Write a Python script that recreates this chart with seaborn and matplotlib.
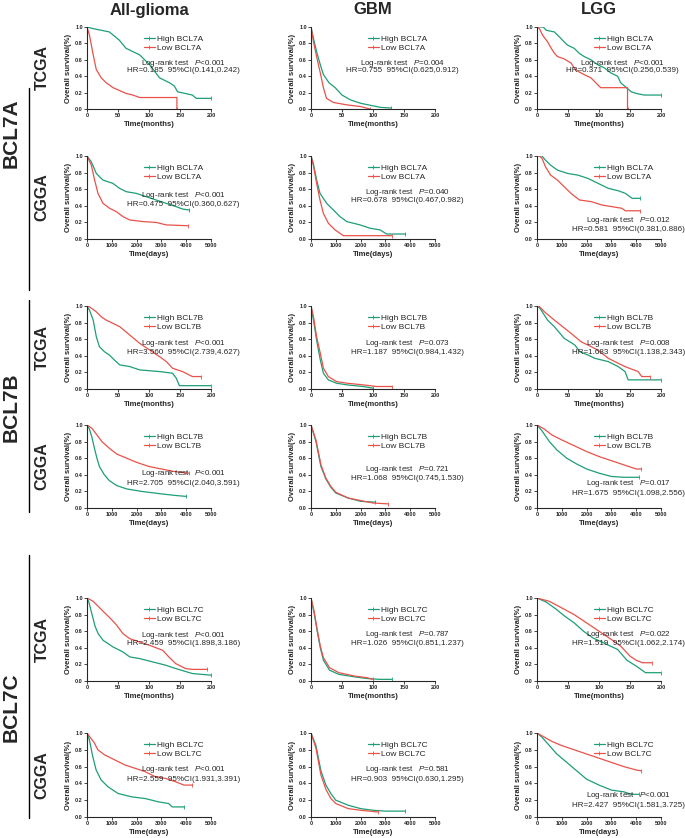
import matplotlib
matplotlib.use("Agg")
import matplotlib.pyplot as plt
import seaborn as sns
import pandas as pd
from matplotlib.lines import Line2D

# --- labels ---
genes = ["BCL7A", "BCL7B", "BCL7C"]
cohorts = ["TCGA", "CGGA"]
subtypes = ["All-glioma", "GBM", "LGG"]

# --- log-rank / HR text, rows = (gene, cohort), cols = subtype ---
p_texts = [
    ["P<0.001", "P=0.004", "P<0.001"],
    ["P<0.001", "P=0.040", "P=0.012"],
    ["P<0.001", "P=0.073", "P=0.008"],
    ["P<0.001", "P=0.721", "P=0.017"],
    ["P<0.001", "P=0.787", "P=0.022"],
    ["P<0.001", "P=0.581", "P<0.001"],
]
hr_vals = [
    ["0.185", "0.755", "0.371"],
    ["0.475", "0.678", "0.581"],
    ["3.560", "1.187", "1.683"],
    ["2.705", "1.068", "1.675"],
    ["2.459", "1.026", "1.519"],
    ["2.559", "0.903", "2.427"],
]
ci_vals = [
    ["0.141,0.242", "0.625,0.912", "0.256,0.539"],
    ["0.360,0.627", "0.467,0.982", "0.381,0.886"],
    ["2.739,4.627", "0.984,1.432", "1.138,2.343"],
    ["2.040,3.591", "0.745,1.530", "1.098,2.556"],
    ["1.898,3.186", "0.851,1.237", "1.062,2.174"],
    ["1.931,3.391", "0.630,1.295", "1.581,3.725"],
]

# --- survival curves (time, survival) ---
# BCL7A TCGA (months)
a_tcga_all_hi = ([0, 10, 36, 52, 63, 85, 101, 117, 133, 141, 146, 170, 176, 200],
                 [1.0, 0.98, 0.94, 0.84, 0.74, 0.66, 0.54, 0.38, 0.32, 0.28, 0.21, 0.17, 0.13, 0.13])
a_tcga_all_lo = ([0, 4, 10, 15, 23, 31, 42, 63, 74, 85, 145, 145],
                 [1.0, 0.90, 0.66, 0.48, 0.38, 0.32, 0.26, 0.19, 0.17, 0.14, 0.14, 0.0])
a_tcga_gbm_hi = ([0, 4, 9, 15, 20, 29, 39, 50, 64, 80, 96, 112, 129],
                 [1.0, 0.86, 0.70, 0.54, 0.42, 0.32, 0.26, 0.17, 0.11, 0.07, 0.045, 0.02, 0.012])
a_tcga_gbm_lo = ([0, 4, 9, 15, 20, 25, 36, 58, 80, 95],
                 [1.0, 0.82, 0.64, 0.44, 0.26, 0.13, 0.08, 0.05, 0.03, 0.0])
a_tcga_lgg_hi = ([0, 10, 15, 28, 36, 41, 49, 60, 68, 76, 87, 98, 109, 119, 130, 135, 152, 160, 173, 200],
                 [1.0, 1.0, 0.96, 0.94, 0.88, 0.84, 0.78, 0.74, 0.68, 0.64, 0.60, 0.54, 0.50, 0.44, 0.40, 0.32, 0.21, 0.19, 0.17, 0.17])
a_tcga_lgg_lo = ([0, 4, 9, 17, 23, 28, 33, 44, 55, 60, 66, 76, 87, 100, 103, 146, 146],
                 [1.0, 0.98, 0.90, 0.82, 0.74, 0.68, 0.64, 0.61, 0.56, 0.50, 0.46, 0.42, 0.38, 0.28, 0.26, 0.26, 0.0])
# BCL7A CGGA (days)
a_cgga_all_hi = ([0, 174, 375, 643, 1046, 1314, 1582, 1984, 2386, 2788, 3190, 3592, 3861, 4130],
                 [1.0, 0.93, 0.79, 0.71, 0.67, 0.61, 0.57, 0.55, 0.51, 0.47, 0.43, 0.39, 0.36, 0.35])
a_cgga_all_lo = ([0, 174, 308, 442, 643, 912, 1180, 1448, 1716, 2252, 2788, 3190, 4060],
                 [1.0, 0.89, 0.71, 0.55, 0.43, 0.37, 0.33, 0.27, 0.23, 0.21, 0.20, 0.17, 0.16])
a_cgga_gbm_hi = ([0, 94, 228, 363, 632, 900, 1169, 1438, 1976, 2379, 2782, 3051, 3800],
                 [1.0, 0.91, 0.71, 0.55, 0.43, 0.35, 0.27, 0.21, 0.17, 0.13, 0.11, 0.06, 0.06])
a_cgga_gbm_lo = ([0, 94, 228, 363, 497, 699, 968, 1304, 3250],
                 [1.0, 0.89, 0.67, 0.47, 0.31, 0.19, 0.11, 0.04, 0.04])
a_cgga_lgg_hi = ([0, 200, 342, 548, 822, 1233, 1644, 2055, 2466, 2877, 3288, 3562, 3836, 4150],
                 [1.0, 1.0, 0.95, 0.89, 0.83, 0.79, 0.77, 0.73, 0.67, 0.61, 0.58, 0.55, 0.49, 0.49])
a_cgga_lgg_lo = ([0, 100, 205, 342, 548, 822, 1096, 1370, 1712, 2192, 2603, 3014, 3425, 3562, 4150],
                 [1.0, 1.0, 0.97, 0.87, 0.77, 0.71, 0.63, 0.55, 0.47, 0.45, 0.41, 0.39, 0.37, 0.34, 0.34])
# BCL7B TCGA
b_tcga_all_hi = ([0, 4, 10, 15, 20, 28, 36, 44, 53, 69, 85, 117, 138, 144, 149, 200],
                 [1.0, 0.95, 0.83, 0.63, 0.51, 0.45, 0.41, 0.35, 0.29, 0.27, 0.23, 0.21, 0.19, 0.13, 0.04, 0.04])
b_tcga_all_lo = ([0, 4, 15, 23, 31, 53, 69, 85, 101, 117, 128, 138, 154, 170, 184],
                 [1.0, 0.99, 0.93, 0.87, 0.83, 0.75, 0.65, 0.55, 0.47, 0.39, 0.33, 0.25, 0.21, 0.15, 0.15])
b_tcga_gbm_hi = ([0, 4, 9, 15, 20, 28, 41, 58, 84, 100],
                 [1.0, 0.83, 0.59, 0.35, 0.19, 0.11, 0.07, 0.05, 0.03, 0.01])
b_tcga_gbm_lo = ([0, 4, 9, 15, 20, 28, 41, 58, 84, 106, 130],
                 [1.0, 0.87, 0.63, 0.43, 0.25, 0.15, 0.09, 0.07, 0.05, 0.03, 0.03])
b_tcga_lgg_hi = ([0, 5, 17, 28, 44, 61, 69, 82, 93, 115, 131, 142, 147, 200],
                 [1.0, 0.97, 0.83, 0.75, 0.61, 0.53, 0.45, 0.41, 0.37, 0.33, 0.27, 0.21, 0.11, 0.11])
b_tcga_lgg_lo = ([0, 3, 12, 28, 55, 71, 82, 98, 115, 131, 142, 163, 169, 182],
                 [1.0, 1.0, 0.93, 0.83, 0.67, 0.57, 0.53, 0.47, 0.37, 0.31, 0.27, 0.21, 0.15, 0.15])
# BCL7B CGGA
b_cgga_all_hi = ([0, 100, 200, 300, 400, 500, 700, 900, 1200, 1600, 2200, 3000, 3600, 4000],
                 [1.0, 0.95, 0.85, 0.72, 0.60, 0.50, 0.40, 0.33, 0.27, 0.23, 0.20, 0.17, 0.15, 0.14])
b_cgga_all_lo = ([0, 200, 400, 600, 900, 1200, 1600, 2000, 2500, 3000, 3500, 4100],
                 [1.0, 0.96, 0.88, 0.80, 0.72, 0.65, 0.60, 0.55, 0.50, 0.47, 0.44, 0.42])
b_cgga_gbm_hi = ([0, 200, 400, 600, 800, 1000, 1500, 2000, 2600],
                 [1.0, 0.80, 0.50, 0.35, 0.25, 0.18, 0.12, 0.08, 0.07])
b_cgga_gbm_lo = ([0, 200, 400, 600, 800, 1000, 1500, 2000, 2500, 3100],
                 [1.0, 0.82, 0.52, 0.36, 0.26, 0.19, 0.12, 0.09, 0.06, 0.05])
b_cgga_lgg_hi = ([0, 200, 500, 800, 1200, 1600, 2000, 2500, 3000, 3500, 4100],
                 [1.0, 0.93, 0.80, 0.70, 0.60, 0.53, 0.47, 0.42, 0.38, 0.37, 0.37])
b_cgga_lgg_lo = ([0, 300, 600, 1000, 1500, 2000, 2500, 3000, 3500, 4000, 4200],
                 [1.0, 0.95, 0.88, 0.82, 0.75, 0.68, 0.62, 0.57, 0.52, 0.47, 0.47])
# BCL7C TCGA
c_tcga_all_hi = ([0, 3, 7.5, 13, 18, 26, 42, 58, 69, 85, 106, 127, 143, 170, 200],
                 [1.0, 0.95, 0.82, 0.66, 0.57, 0.49, 0.41, 0.35, 0.29, 0.27, 0.23, 0.19, 0.15, 0.09, 0.07])
c_tcga_all_lo = ([0, 10, 26, 37, 47, 58, 69, 85, 101, 122, 132, 143, 159, 170, 194],
                 [1.0, 0.96, 0.84, 0.76, 0.68, 0.57, 0.51, 0.47, 0.43, 0.37, 0.29, 0.21, 0.15, 0.14, 0.14])
c_tcga_gbm_hi = ([0, 5, 10, 15, 20, 30, 45, 70, 90, 110, 130],
                 [1.0, 0.82, 0.60, 0.40, 0.25, 0.13, 0.08, 0.05, 0.03, 0.02, 0.02])
c_tcga_gbm_lo = ([0, 5, 10, 15, 20, 30, 45, 70, 90, 100],
                 [1.0, 0.84, 0.62, 0.42, 0.28, 0.16, 0.10, 0.06, 0.04, 0.02])
c_tcga_lgg_hi = ([0, 15, 30, 45, 60, 75, 90, 110, 130, 145, 160, 175, 200],
                 [1.0, 0.95, 0.87, 0.78, 0.70, 0.60, 0.52, 0.45, 0.38, 0.25, 0.18, 0.10, 0.10])
c_tcga_lgg_lo = ([0, 20, 40, 60, 80, 100, 120, 135, 150, 160, 170, 185],
                 [1.0, 0.96, 0.88, 0.80, 0.70, 0.60, 0.50, 0.42, 0.30, 0.25, 0.22, 0.22])
# BCL7C CGGA
c_cgga_all_hi = ([0, 95, 232, 368, 572, 845, 1253, 1798, 2343, 2888, 3297, 3433, 3910],
                 [1.0, 0.92, 0.72, 0.56, 0.44, 0.36, 0.28, 0.24, 0.22, 0.18, 0.16, 0.12, 0.12])
c_cgga_all_lo = ([0, 300, 436, 708, 1117, 1526, 1935, 2343, 2752, 3161, 3569, 3910, 4250],
                 [1.0, 0.88, 0.80, 0.74, 0.68, 0.62, 0.58, 0.54, 0.48, 0.46, 0.42, 0.38, 0.38])
c_cgga_gbm_hi = ([0, 200, 400, 600, 800, 1000, 1500, 2000, 2500, 3000, 3800],
                 [1.0, 0.85, 0.55, 0.38, 0.28, 0.20, 0.14, 0.10, 0.08, 0.07, 0.07])
c_cgga_gbm_lo = ([0, 200, 400, 600, 800, 1000, 1500, 2000, 2700],
                 [1.0, 0.82, 0.50, 0.33, 0.22, 0.16, 0.10, 0.08, 0.06])
c_cgga_lgg_hi = ([0, 200, 500, 800, 1200, 1600, 2000, 2500, 3000, 3500, 3800, 4100],
                 [1.0, 0.95, 0.85, 0.75, 0.65, 0.55, 0.45, 0.38, 0.32, 0.30, 0.27, 0.27])
c_cgga_lgg_lo = ([0, 300, 600, 1000, 1500, 2000, 2500, 3000, 3500, 4000, 4200],
                 [1.0, 0.95, 0.90, 0.85, 0.80, 0.75, 0.70, 0.65, 0.60, 0.56, 0.55])

curves = [
    [(a_tcga_all_hi, a_tcga_all_lo), (a_tcga_gbm_hi, a_tcga_gbm_lo), (a_tcga_lgg_hi, a_tcga_lgg_lo)],
    [(a_cgga_all_hi, a_cgga_all_lo), (a_cgga_gbm_hi, a_cgga_gbm_lo), (a_cgga_lgg_hi, a_cgga_lgg_lo)],
    [(b_tcga_all_hi, b_tcga_all_lo), (b_tcga_gbm_hi, b_tcga_gbm_lo), (b_tcga_lgg_hi, b_tcga_lgg_lo)],
    [(b_cgga_all_hi, b_cgga_all_lo), (b_cgga_gbm_hi, b_cgga_gbm_lo), (b_cgga_lgg_hi, b_cgga_lgg_lo)],
    [(c_tcga_all_hi, c_tcga_all_lo), (c_tcga_gbm_hi, c_tcga_gbm_lo), (c_tcga_lgg_hi, c_tcga_lgg_lo)],
    [(c_cgga_all_hi, c_cgga_all_lo), (c_cgga_gbm_hi, c_cgga_gbm_lo), (c_cgga_lgg_hi, c_cgga_lgg_lo)],
]

# --- layout (pixels in a 685x838 figure) ---
W, H = 685, 838
row_top = [27, 156, 306, 425, 598, 733]
row_bot = [109, 239, 389, 508, 681, 817]
col_left = [87, 311, 537]
ax_w = 124
# text block: centre x, y of log-rank line, y of HR line (axes fractions)
stat_pos = [
    [(0.78, 0.56, 0.47), (0.74, 0.56, 0.47), (0.69, 0.56, 0.47)],
    [(0.78, 0.52, 0.42), (0.78, 0.56, 0.46), (0.74, 0.22, 0.11)],
    [(0.78, 0.55, 0.44), (0.78, 0.55, 0.44), (0.74, 0.55, 0.44)],
    [(0.78, 0.41, 0.30), (0.78, 0.46, 0.35), (0.74, 0.29, 0.17)],
    [(0.78, 0.55, 0.45), (0.78, 0.56, 0.45), (0.74, 0.56, 0.45)],
    [(0.78, 0.56, 0.45), (0.78, 0.56, 0.45), (0.74, 0.26, 0.14)],
]

GREEN = "#1d9e78"
RED = "#e8524a"

sns.set_style("ticks")
plt.rcParams["font.family"] = ["Liberation Sans", "DejaVu Sans"]
plt.rcParams["mathtext.fontset"] = "custom"
plt.rcParams["mathtext.it"] = "Liberation Sans:italic"
plt.rcParams["mathtext.rm"] = "Liberation Sans"

fig = plt.figure(figsize=(W / 100, H / 100), dpi=100)


def km_panel(ax, hi, lo, gene, months):
    for (t, s), col in ((hi, GREEN), (lo, RED)):
        df = pd.DataFrame({"t": t, "s": s})
        sns.lineplot(data=df, x="t", y="s", ax=ax, color=col, linewidth=0.9,
                     estimator=None, sort=False)
        ax.plot(t[-1], s[-1], marker="|", color=col, ms=3, mew=0.6)
    xmax = 200 if months else 5000
    ax.set_xlim(0, xmax)
    ax.set_ylim(0, 1.0)
    ax.set_xticks([0, 50, 100, 150, 200] if months else [0, 1000, 2000, 3000, 4000, 5000])
    ax.set_yticks([0, 0.2, 0.4, 0.6, 0.8, 1.0])
    ax.set_yticklabels(["0.0", "0.2", "0.4", "0.6", "0.8", "1.0"])
    ax.tick_params(labelsize=4, length=2, width=0.6, pad=1)
    for lab in ax.get_xticklabels() + ax.get_yticklabels():
        lab.set_fontweight("bold")
    ax.set_xlabel("Time(months)" if months else "Time(days)", fontsize=5.5,
                  fontweight="bold", labelpad=2)
    ax.set_ylabel("Overall survival(%)", fontsize=5.5, fontweight="bold", labelpad=2)
    for sp in ("left", "bottom"):
        ax.spines[sp].set_linewidth(0.8)
    sns.despine(ax=ax)
    handles = [Line2D([0], [0], color=GREEN, lw=0.9, marker="|", ms=3, mew=0.6),
               Line2D([0], [0], color=RED, lw=0.9, marker="|", ms=3, mew=0.6)]
    ax.legend(handles, [f"High {gene}", f"Low {gene}"], loc="upper left",
              bbox_to_anchor=(0.46, 0.90), frameon=False, fontsize=6,
              handlelength=1.3, handletextpad=0.3, labelspacing=0.15,
              borderpad=0, borderaxespad=0)


for r in range(6):
    gene = genes[r // 2]
    months = (r % 2 == 0)
    for c in range(3):
        rect = [col_left[c] / W, 1 - row_bot[r] / H, ax_w / W, (row_bot[r] - row_top[r]) / H]
        ax = fig.add_axes(rect)
        hi, lo = curves[r][c]
        km_panel(ax, hi, lo, gene, months)
        cx, y1, y2 = stat_pos[r][c]
        p = p_texts[r][c]
        ax.text(cx, y1, "Log-rank test   $P$" + p[1:], transform=ax.transAxes,
                fontsize=5.8, ha="center", va="center")
        ax.text(cx, y2, f"HR={hr_vals[r][c]}  95%CI({ci_vals[r][c]})",
                transform=ax.transAxes, fontsize=5.8, ha="center", va="center")

# column titles
for c, name in enumerate(subtypes):
    fig.text((col_left[c] + ax_w / 2) / W, 1 - 10 / H, name, fontsize=12,
             fontweight="bold", ha="center", va="center")

# row labels (cohort) and gene group labels with bars
for r in range(6):
    yc = 1 - (row_top[r] + row_bot[r]) / 2 / H
    fig.text(42 / W, yc, cohorts[r % 2], rotation=90, fontsize=11.5,
             fontweight="bold", ha="center", va="center")

bar_spans = [(88, 290), (300, 512), (555, 818)]
for g, gene in enumerate(genes):
    y_top, y_bot = bar_spans[g]
    fig.add_artist(Line2D([29 / W, 29 / W], [1 - y_top / H, 1 - y_bot / H],
                          transform=fig.transFigure, color="black", lw=1.0))
    yc = 1 - ((row_top[2 * g] + row_bot[2 * g + 1]) / 2) / H
    fig.text(11 / W, yc, gene, rotation=90, fontsize=15, fontweight="bold",
             ha="center", va="center")

fig.savefig("out.png", dpi=100)
